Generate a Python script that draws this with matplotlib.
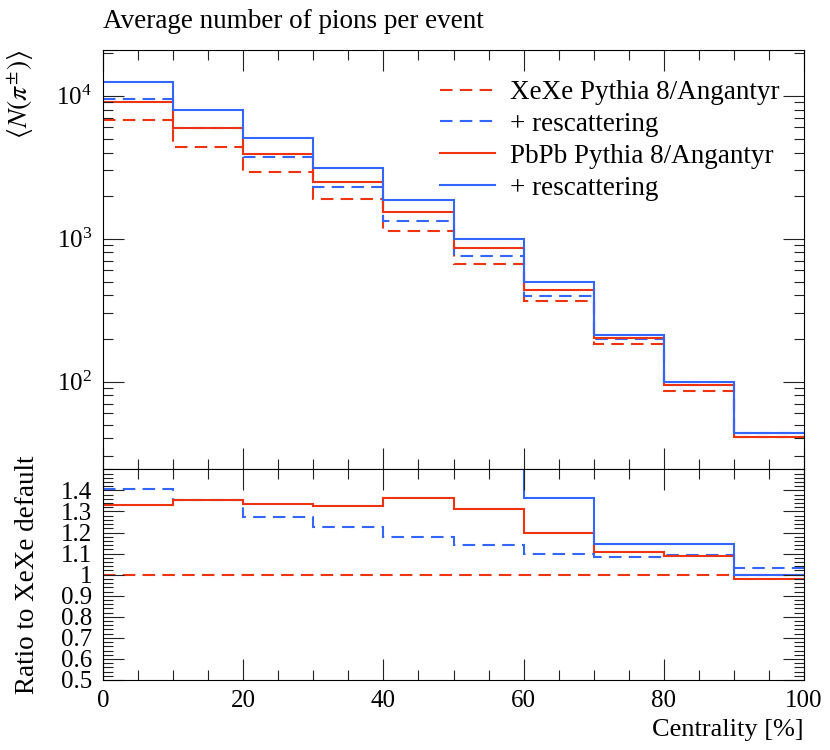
import matplotlib
matplotlib.use('Agg')
import matplotlib.pyplot as plt
import numpy as np
from matplotlib.ticker import MultipleLocator, FixedLocator, FuncFormatter, NullFormatter, LogLocator

plt.rcParams['font.family'] = ['Liberation Serif', 'DejaVu Serif']
plt.rcParams['mathtext.fontset'] = 'stix'

# centrality bins
edges = np.arange(0, 101, 10)

# <N(pi+-)> per event
xexe = [6760, 4400, 2910, 1890, 1125, 660, 364, 184, 86.5, 41.0]
xexe_resc = [9480, 5960, 3720, 2310, 1330, 750, 398, 198, 94.5, 43.3]
pbpb = [9000, 5950, 3890, 2510, 1540, 865, 434, 203, 94.5, 41.0]
pbpb_resc = [12400, 7980, 5090, 3145, 1850, 990, 499, 211, 98.6, 43.5]

# ratio to XeXe default
ratio_xexe = [1.0, 1.0, 1.0, 1.0, 1.0, 1.0, 1.0, 1.0, 1.0, 1.0]
ratio_xexe_resc = [1.405, 1.355, 1.273, 1.224, 1.180, 1.139, 1.096, 1.084, 1.091, 1.033]
ratio_pbpb = [1.332, 1.352, 1.336, 1.327, 1.365, 1.311, 1.196, 1.106, 1.087, 0.980]
ratio_pbpb_resc = [1.83, 1.81, 1.75, 1.66, 1.64, 1.52, 1.363, 1.145, 1.146, 1.000]

labels = ['XeXe Pythia 8/Angantyr', '+ rescattering', 'PbPb Pythia 8/Angantyr', '+ rescattering']
red = '#EE3311'
blue = '#3366FF'
dash = (0, (6, 3.5))
styles = [(red, dash), (blue, dash), (red, '-'), (blue, '-')]

W, H = 830, 750
fig = plt.figure(figsize=(W / 100, H / 100), dpi=100)
x0, x1 = 103, 804
top, mid, bot = 50, 469.3, 680
ax = fig.add_axes([x0 / W, 1 - mid / H, (x1 - x0) / W, (mid - top) / H])
rax = fig.add_axes([x0 / W, 1 - bot / H, (x1 - x0) / W, (bot - mid) / H], sharex=ax)

lw = 1.5
for vals, lab, (c, ls) in zip([xexe, xexe_resc, pbpb, pbpb_resc], labels, styles):
    ax.stairs(vals, edges, baseline=None, color=c, linestyle=ls, linewidth=lw, label=lab)
for vals, (c, ls) in zip([ratio_xexe, ratio_xexe_resc, ratio_pbpb, ratio_pbpb_resc], styles):
    rax.stairs(vals, edges, baseline=None, color=c, linestyle=ls, linewidth=lw)

ax.set_yscale('log')
ax.set_ylim(24.3, 2.09e4)
ax.set_xlim(0, 100)
rax.set_ylim(0.5, 1.5)

ax.yaxis.set_minor_locator(LogLocator(base=10, subs=np.arange(2, 10)))
ax.yaxis.set_minor_formatter(NullFormatter())
rax.xaxis.set_major_locator(MultipleLocator(20))
rax.xaxis.set_minor_locator(MultipleLocator(5))
rax.yaxis.set_major_locator(FixedLocator(np.round(np.arange(0.5, 1.45, 0.1), 1)))
rax.yaxis.set_minor_locator(MultipleLocator(0.02))
rax.yaxis.set_major_formatter(FuncFormatter(lambda v, p: '%g' % v))

for a in (ax, rax):
    a.tick_params(which='both', direction='in', top=True, right=True, labelsize=18, color='#222222')
    a.tick_params(which='major', length=15, width=0.8)
    a.tick_params(which='minor', length=7, width=0.8)
    a.tick_params(axis='y', pad=8)
    a.tick_params(axis='x', pad=7)
    for s in a.spines.values():
        s.set_linewidth(0.8)
ax.tick_params(labelbottom=False)

ax.legend(loc='upper left', bbox_to_anchor=(0.481, 0.928), frameon=False, fontsize=19.5,
          handlelength=2.03, handletextpad=0.55, labelspacing=0.25, borderpad=0, borderaxespad=0)

fig.text(x0 / W, 1 - 21 / H, 'Average number of pions per event', ha='left', va='center', fontsize=19.5)
fig.text(x1 / W, 1 - 730 / H, 'Centrality [%]', ha='right', va='center', fontsize=19)
fig.text(21 / W, 1 - 50 / H, r'$\langle N(\pi^{\pm})\rangle$', rotation=90, ha='center', va='top', fontsize=20)
fig.text(27 / W, 1 - 455 / H, 'Ratio to XeXe default', rotation=90, ha='center', va='top', fontsize=19.5)

fig.savefig('out.png', dpi=100)
